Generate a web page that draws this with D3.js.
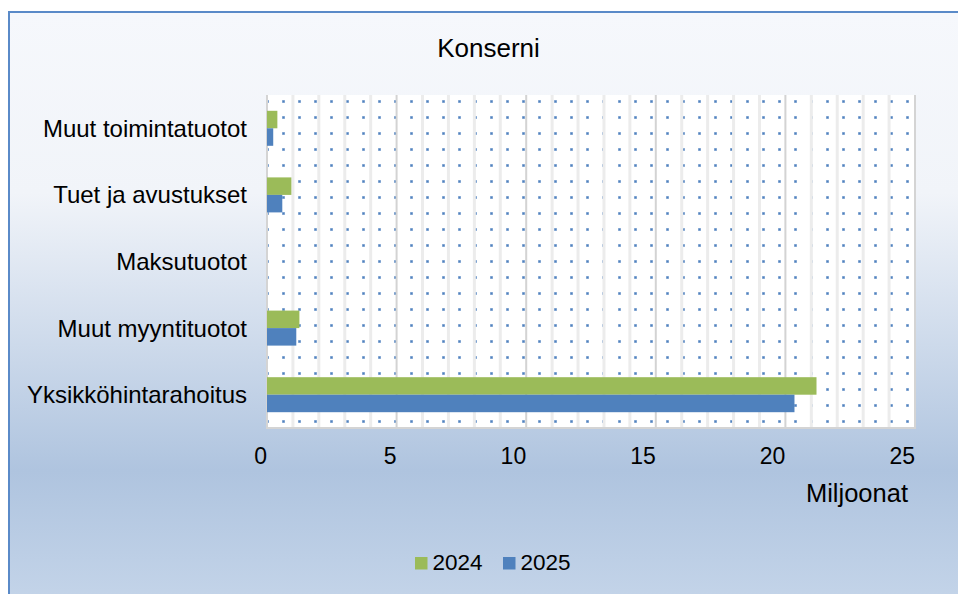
<!DOCTYPE html>
<html>
<head>
<meta charset="utf-8">
<script src="https://cdn.jsdelivr.net/npm/d3@7"></script>
<style>
  body { margin: 0; background: #fff; }
  svg { display: block; font-family: "Liberation Sans", Arial, sans-serif; }
</style>
</head>
<body>
<div id="chart"></div>
<script>
const categories = ["Muut toimintatuotot", "Tuet ja avustukset", "Maksutuotot", "Muut myyntituotot", "Yksikköhintarahoitus"];
const series = ["2024", "2025"];
const values2024 = [0.40, 0.94, 0, 1.25, 21.2];
const values2025 = [0.24, 0.59, 0, 1.13, 20.35];
const xTicks = [0, 5, 10, 15, 20, 25];

const width = 958, height = 594;
const plot = { left: 267, right: 915, top: 95, bottom: 428 };
const colors = { "2024": "#9bbb59", "2025": "#4f81bd" };

const svg = d3.select("#chart").append("svg")
  .attr("width", width)
  .attr("height", height);

const defs = svg.append("defs");
const grad = defs.append("linearGradient")
  .attr("id", "bg").attr("x1", 0).attr("y1", 0).attr("x2", 0).attr("y2", 1);
grad.append("stop").attr("offset", "0%").attr("stop-color", "#f6f8fc");
grad.append("stop").attr("offset", "30%").attr("stop-color", "#f1f4f9");
grad.append("stop").attr("offset", "76%").attr("stop-color", "#afc4df");
grad.append("stop").attr("offset", "100%").attr("stop-color", "#c6d6ea");

const pat = defs.append("pattern")
  .attr("id", "dots").attr("patternUnits", "userSpaceOnUse")
  .attr("x", plot.left - 1).attr("y", 100)
  .attr("width", 16).attr("height", 16);
pat.append("rect").attr("width", 16).attr("height", 16).attr("fill", "#fff");
pat.append("rect").attr("x", 0).attr("y", 0).attr("width", 3).attr("height", 3).attr("fill", "#a9c1e2");
pat.append("rect").attr("x", 0.5).attr("y", 0.5).attr("width", 2).attr("height", 2).attr("fill", "#4f81bd");

// chart area background + border
svg.append("rect")
  .attr("x", 9).attr("y", 12)
  .attr("width", width + 10).attr("height", height + 10)
  .attr("fill", "url(#bg)")
  .attr("stroke", "#5a8ac8").attr("stroke-width", 2);

// title
svg.append("text")
  .attr("x", 488.5).attr("y", 56.5)
  .attr("text-anchor", "middle")
  .attr("font-size", "26px")
  .attr("fill", "#000")
  .text("Konserni");

const x = d3.scaleLinear().domain([0, 25]).range([plot.left, plot.right]);
const y = d3.scaleBand().domain(categories).range([plot.top, plot.bottom]);
const ySub = d3.scaleBand().domain(series).range([0, 35]);
const bandOffset = (y.bandwidth() - 35) / 2;

// plot area: dotted fill
svg.append("rect")
  .attr("x", plot.left).attr("y", plot.top)
  .attr("width", plot.right - plot.left).attr("height", plot.bottom - plot.top)
  .attr("fill", "url(#dots)");

// minor gridlines every 1 unit
svg.append("g")
  .selectAll("line")
  .data(d3.range(1, 25).filter(v => v % 5 !== 0))
  .join("line")
  .attr("x1", d => x(d)).attr("x2", d => x(d))
  .attr("y1", plot.top).attr("y2", plot.bottom)
  .attr("stroke", "#ececec").attr("stroke-width", 3);

// major gridlines
svg.append("g")
  .selectAll("line")
  .data(xTicks.slice(1, -1))
  .join("line")
  .attr("x1", d => x(d)).attr("x2", d => x(d))
  .attr("y1", plot.top).attr("y2", plot.bottom)
  .attr("stroke", "#d3d3d3").attr("stroke-width", 2);

// plot border (left, bottom, right)
svg.append("path")
  .attr("d", `M${plot.left},${plot.top}V${plot.bottom}H${plot.right}V${plot.top}`)
  .attr("fill", "none")
  .attr("stroke", "#d4d4d4").attr("stroke-width", 2);

// bars
const rows = categories.map((c, i) => ({ cat: c, "2024": values2024[i], "2025": values2025[i] }));
svg.append("g")
  .selectAll("g")
  .data(rows)
  .join("g")
  .attr("transform", d => `translate(0,${y(d.cat) + bandOffset})`)
  .selectAll("rect")
  .data(d => series.map(s => ({ s, v: d[s] })))
  .join("rect")
  .attr("x", x(0))
  .attr("y", d => ySub(d.s))
  .attr("width", d => x(d.v) - x(0))
  .attr("height", ySub.bandwidth())
  .attr("fill", d => colors[d.s]);

// category labels
svg.append("g")
  .selectAll("text")
  .data(categories)
  .join("text")
  .attr("x", 247)
  .attr("y", d => y(d) + y.bandwidth() / 2 + 8.5)
  .attr("text-anchor", "end")
  .attr("font-size", "24px")
  .attr("fill", "#000")
  .text(d => d);

// x tick labels (right aligned to gridline)
svg.append("g")
  .selectAll("text")
  .data(xTicks)
  .join("text")
  .attr("x", d => x(d))
  .attr("y", 464)
  .attr("text-anchor", "end")
  .attr("font-size", "23px")
  .attr("fill", "#000")
  .text(d => d);

svg.append("text")
  .attr("x", 908).attr("y", 501.5)
  .attr("text-anchor", "end")
  .attr("font-size", "25.5px")
  .attr("fill", "#000")
  .text("Miljoonat");

// legend
const legendX = [415, 503];
const legend = svg.append("g")
  .selectAll("g")
  .data(series)
  .join("g")
  .attr("transform", (d, i) => `translate(${legendX[i]},557)`);
legend.append("rect")
  .attr("width", 12.5).attr("height", 12.5)
  .attr("fill", d => colors[d]);
legend.append("text")
  .attr("x", 17.5).attr("y", 12.5)
  .attr("font-size", "22.5px")
  .attr("fill", "#000")
  .text(d => d);
</script>
</body>
</html>
